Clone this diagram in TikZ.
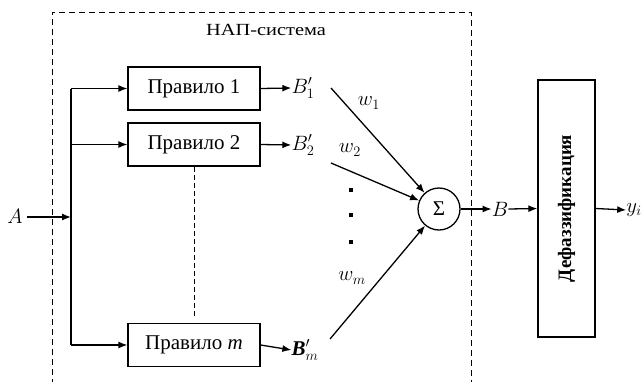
\documentclass[tikz,border=0pt]{standalone}
\usepackage{fontspec}
\setmainfont{Liberation Serif}
\newfontfamily\titlefont[FakeStretch=1.2]{Liberation Serif}
\usetikzlibrary{arrows.meta}
\begin{document}
\begin{tikzpicture}[x=1pt,y=-1pt,
  every node/.style={font=\fontsize{21}{25}\selectfont, inner sep=0pt},
  rulebox/.style={draw, line width=1.3pt, minimum width=132pt, minimum height=43pt},
  conn/.style={line width=1.3pt},
  arr/.style={line width=1.3pt, -{Latex[length=9pt,width=7pt]}},
  bnd/.style={dash pattern=on 6pt off 4pt, line width=0.9pt}]
\useasboundingbox (0,0) rectangle (643,381);
% dashed system frame
\draw[bnd] (52,395) -- (52,12) -- (471,12) -- (471,395);
\node (title) at (266,30) {\titlefont\fontsize{17}{20}\selectfont НАП-система};
% rule boxes
\node[rulebox] (r1) at (194,88.5) {Правило 1};
\node[rulebox] (r2) at (194,144.5) {Правило 2};
\node[rulebox] (rm) at (194,345) {Правило \textit{m}};
% input
\node (A) at (15,216) {$A$};
\coordinate (bt) at (71,88.5);
\coordinate (bA) at (71,217);
\coordinate (bb) at (71,345);
\draw[conn] (bt) -- (bb);
\draw[arr] (A.east) ++(4,1) -- (bA);
\draw[arr] (bt) -- (r1.west);
\draw[arr] (71,144.5) -- (r2.west);
\draw[arr] (bb) -- (rm.west);
% dashed link between rule 2 and rule m
\coordinate (dm) at (194,318);
\draw[dash pattern=on 5pt off 3pt, line width=0.9pt] (r2.south) -- (dm);
% outputs of rules
\node (B1) at (303,88) {$B'_1$};
\node (B2) at (303,145) {$B'_2$};
\node (Bm) at (305,350) {\textbf{\textit{B}}$'_m$};
\draw[arr] (r1.east) -- (B1.west);
\draw[arr] (r2.east) -- (B2.west);
\draw[arr] (rm.east) -- (Bm.west);
% sum
\node[draw, circle, line width=1.3pt, minimum size=42pt] (S) at (439,209) {Σ};
\coordinate (s1) at (331,88);
\coordinate (s2) at (331,163);
\coordinate (sm) at (330,339);
\draw[arr] (s1) -- (S);
\draw[arr] (s2) -- (S);
\draw[arr] (sm) -- (S);
\node (w1) at (369,103) {$w_1$};
\node (w2) at (350,150) {$w_2$};
\node (wm) at (352,278) {$w_m$};
\foreach \yy/\nm in {190/d1,215/d2,242/d3}
  \node[fill, rectangle, minimum size=3.5pt] (\nm) at (351,\yy) {};
% defuzzification
\node (B) at (500,209) {$B$};
\draw[arr] (S.east) -- (B.west);
\node[draw, line width=1.3pt, minimum width=57pt, minimum height=257pt] (D) at (566.5,208.5) {};
\node[rotate=90, font=\bfseries\fontsize{19}{23}\selectfont] (Dt) at (D.center) {Дефаззификация};
\draw[arr] (B.east) -- (D.west);
\node (y) at (634,210) {$y_i$};
\draw[arr] (D.east) -- (y.west);
\end{tikzpicture}
\end{document}
